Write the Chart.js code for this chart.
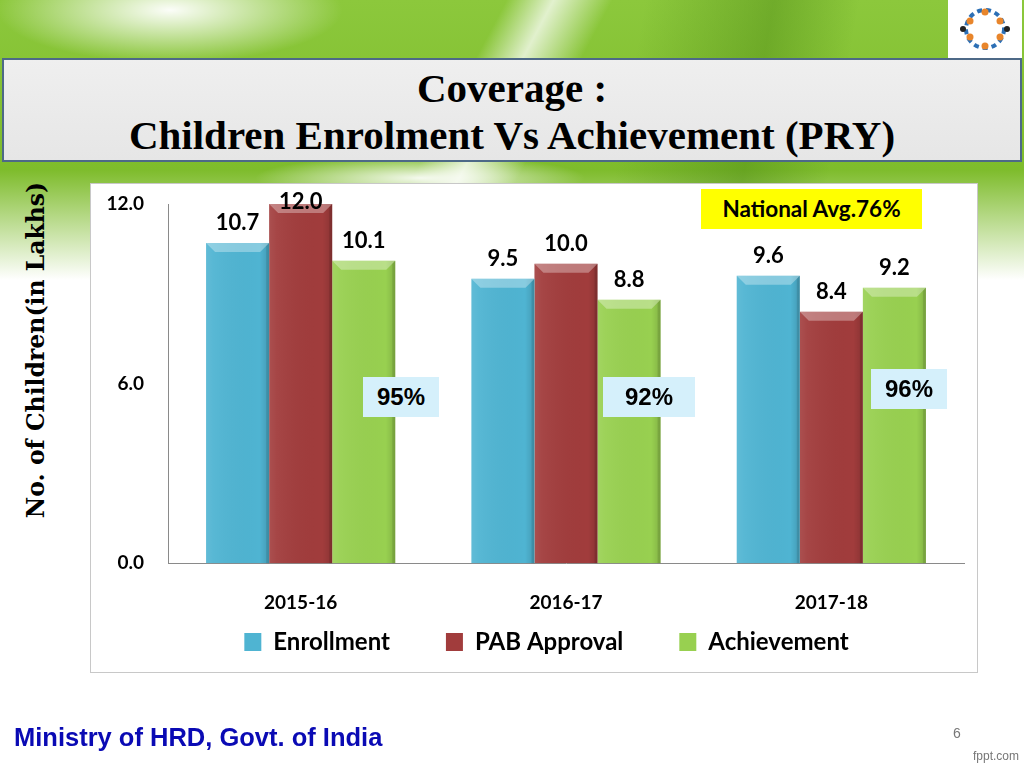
<!DOCTYPE html>
<html>
<head>
<meta charset="utf-8">
<script src="https://cdn.jsdelivr.net/npm/chart.js@4.4.1/dist/chart.umd.min.js"></script>
<style>
  html, body { margin: 0; padding: 0; }
  body { width: 1024px; height: 768px; position: relative; overflow: hidden; background: #fff; font-family: Lato, sans-serif; }
  #bg {
    position: absolute; left: 0; top: 0; width: 1024px; height: 290px;
    background:
      radial-gradient(ellipse 230px 70px at 170px 10px, rgba(255,255,255,0.97), rgba(255,255,255,0) 75%),
      radial-gradient(ellipse 220px 30px at 420px 178px, rgba(255,255,255,0.9), rgba(255,255,255,0) 75%),
      linear-gradient(118deg, rgba(255,255,255,0) 43%, rgba(255,255,255,0.75) 47%, rgba(255,255,255,0) 52%),
      linear-gradient(100deg, rgba(60,120,10,0) 60%, rgba(60,120,10,0.35) 72%, rgba(60,120,10,0) 80%),
      linear-gradient(180deg, #8cc83c 0px, #7ebc2c 170px, rgba(255,255,255,0) 280px);
  }
  #logo { position: absolute; left: 948px; top: 0; width: 74px; height: 58px; background: #fff; }
  #titlebox {
    position: absolute; left: 2px; top: 58px; width: 1020px; height: 104px; box-sizing: border-box;
    background: linear-gradient(180deg, #efefef, #e6e6e6);
    border: 2px solid #4d6987;
    font-family: "Liberation Serif", serif; font-weight: bold; color: #000;
    text-align: center; font-size: 41px; line-height: 47px; padding-top: 5px;
  }
  #titlebox div { height: 47px; }
  #ytitle {
    position: absolute; left: 36px; top: 350px; transform: translate(-50%, -50%) rotate(-90deg);
    white-space: nowrap; font-family: "DejaVu Serif", serif; font-weight: bold; font-size: 23.5px; color: #000;
  }
  #plotbox {
    position: absolute; left: 90px; top: 183px; width: 886px; height: 488px;
    background: #fff; border: 1px solid #c8c8c8;
  }
  #chart { position: absolute; left: 0; top: 0; }
  .pct {
    position: absolute; background: #d5f0fb; font-family: "Liberation Sans", Arial, sans-serif;
    font-weight: bold; font-size: 24px; color: #000; text-align: center; line-height: 40px; height: 40px;
  }
  #natavg {
    position: absolute; left: 610px; top: 5px; width: 221px; height: 40px; background: #ffff00;
    font-family: Lato, sans-serif; font-weight: bold; font-size: 22.5px; line-height: 40px; text-align: center; color: #000;
  }
  #footer {
    position: absolute; left: 14px; top: 722px; font-family: "Liberation Sans", Arial, sans-serif;
    font-weight: bold; font-size: 25.5px; line-height: 30px; color: #0a0ab4;
  }
  #pageno { position: absolute; left: 953px; top: 725px; font-family: "Liberation Sans", sans-serif; font-size: 14px; color: #777; }
  #fppt { position: absolute; left: 973px; top: 749px; font-family: "Liberation Sans Narrow", "Liberation Sans", sans-serif; font-size: 12px; color: #777; }
</style>
</head>
<body>
<div id="bg"></div>
<div id="logo">
  <svg width="74" height="58" viewBox="0 0 74 58">
    <circle cx="37" cy="29" r="19" fill="none" stroke="#2c6fb5" stroke-width="4" stroke-dasharray="5 4"/>
    <circle cx="37" cy="12" r="3.5" fill="#e8852b"/><circle cx="37" cy="46" r="3.5" fill="#e8852b"/>
    <circle cx="22" cy="21" r="3.5" fill="#e8852b"/><circle cx="52" cy="21" r="3.5" fill="#e8852b"/>
    <circle cx="22" cy="37" r="3.5" fill="#e8852b"/><circle cx="52" cy="37" r="3.5" fill="#e8852b"/>
    <circle cx="15" cy="29" r="3" fill="#222"/><circle cx="59" cy="29" r="3" fill="#222"/>
  </svg>
</div>
<div id="titlebox">
  <div>Coverage :</div>
  <div>Children Enrolment Vs Achievement (PRY)</div>
</div>
<div id="ytitle">No. of Children(in Lakhs)</div>
<div id="plotbox">
  <canvas id="chart" width="886" height="548"></canvas>
  <div class="pct" style="left:272px; top:193px; width:76px;">95%</div>
  <div class="pct" style="left:512px; top:193px; width:92px;">92%</div>
  <div class="pct" style="left:780px; top:185px; width:76px;">96%</div>
  <div id="natavg">National Avg.76%</div>
</div>
<div id="footer">Ministry of HRD, Govt. of India</div>
<div id="pageno">6</div>
<div id="fppt">fppt.com</div>

<script>
// chart data (lakh children)
const categories  = ['2015-16', '2016-17', '2017-18'];
const seriesNames = ['Enrollment', 'PAB Approval', 'Achievement'];
const enrollment  = [10.7, 9.5, 9.6];
const pabApproval = [12.0, 10.0, 8.4];
const achievement = [10.1, 8.8, 9.2];
const yTicks      = [0, 6, 12];

const COLORS = ['#4fb4d2', '#a13c3c', '#98d050'];
const FONT_LBL = { family: 'Lato', size: 19, weight: 'bold' };

// bevel + shading over each bar, like the PowerPoint bars
const bevelPlugin = {
  id: 'bevel',
  afterDatasetsDraw(chart) {
    const ctx = chart.ctx;
    chart.data.datasets.forEach((ds, i) => {
      chart.getDatasetMeta(i).data.forEach(bar => {
        const l = bar.x - bar.width / 2, r = bar.x + bar.width / 2;
        const t = bar.y, b = bar.base, bv = 9;
        ctx.save();
        const g = ctx.createLinearGradient(l, 0, r, 0);
        g.addColorStop(0, 'rgba(255,255,255,0.10)');
        g.addColorStop(0.12, 'rgba(255,255,255,0.05)');
        g.addColorStop(0.85, 'rgba(0,0,0,0)');
        g.addColorStop(1, 'rgba(0,0,0,0.14)');
        ctx.fillStyle = g;
        ctx.fillRect(l, t, r - l, b - t);
        ctx.beginPath();
        ctx.moveTo(l, t); ctx.lineTo(r, t); ctx.lineTo(r - bv, t + bv); ctx.lineTo(l + bv, t + bv); ctx.closePath();
        ctx.fillStyle = 'rgba(255,255,255,0.32)';
        ctx.fill();
        ctx.beginPath();
        ctx.moveTo(r, t); ctx.lineTo(r, b); ctx.lineTo(r - 3, b); ctx.lineTo(r - 3, t + 3); ctx.closePath();
        ctx.fillStyle = 'rgba(0,0,0,0.10)';
        ctx.fill();
        ctx.restore();
      });
    });
  }
};

// value labels above the bars
const valueLabels = {
  id: 'valueLabels',
  afterDatasetsDraw(chart) {
    const ctx = chart.ctx;
    ctx.save();
    ctx.font = 'bold 22px Lato';
    ctx.fillStyle = '#000';
    ctx.textAlign = 'center';
    ctx.textBaseline = 'middle';
    chart.data.datasets.forEach((ds, i) => {
      chart.getDatasetMeta(i).data.forEach((bar, j) => {
        const y = Math.max(bar.y - 20, 18);
        ctx.fillText(ds.data[j].toFixed(1), bar.x, y);
      });
    });
    ctx.restore();
  }
};

// legend uses one padding for gaps and height; pull it up under the tick labels
const legendNudge = {
  id: 'legendNudge',
  afterLayout(chart) {
    const lg = chart.legend;
    lg.top -= 68; lg.bottom -= 68;
    lg.left += 19; lg.right += 19;
  }
};

new Chart(document.getElementById('chart'), {
  type: 'bar',
  data: {
    labels: categories,
    datasets: [enrollment, pabApproval, achievement].map((d, i) => ({
      label: seriesNames[i],
      data: d,
      backgroundColor: COLORS[i],
      borderWidth: 0,
      barPercentage: 1,
      categoryPercentage: 0.713
    }))
  },
  options: {
    responsive: false,
    animation: false,
    layout: { padding: { left: 0, right: 13, top: 20, bottom: 0 } },
    plugins: {
      tooltip: { enabled: false },
      legend: {
        position: 'bottom',
        labels: { color: '#000', font: { family: 'Lato', size: 24, weight: 'bold' }, boxWidth: 17, boxHeight: 18, padding: 56 }
      }
    },
    scales: {
      x: {
        grid: { display: false, drawTicks: false },
        border: { display: true, color: '#8a8a8a', width: 1 },
        ticks: { color: '#000', font: FONT_LBL, padding: 28 }
      },
      y: {
        min: 0, max: 12,
        afterBuildTicks: s => { s.ticks = yTicks.map(v => ({ value: v })); },
        grid: { display: false, drawTicks: true, tickLength: 24 },
        border: { display: true, color: '#8a8a8a', width: 1 },
        ticks: { color: '#000', font: FONT_LBL, padding: 0, callback: v => v.toFixed(1) },
        afterFit: s => { s.width = 77; }
      }
    }
  },
  plugins: [bevelPlugin, valueLabels, legendNudge]
});
</script>
</body>
</html>
